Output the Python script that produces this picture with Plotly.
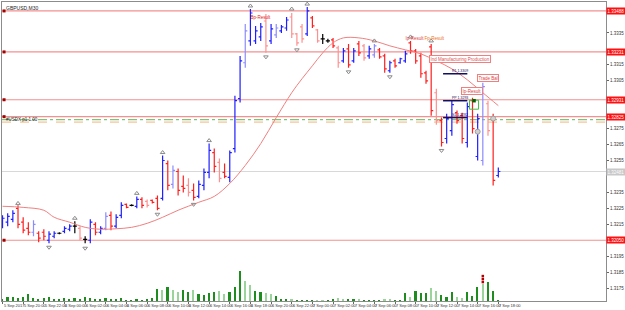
import plotly.graph_objects as go

SYMBOL = "GBPUSD,M30"

bar_open = [1.32138, 1.32163, 1.32181, 1.32250, 1.32163, 1.32125, 1.32100, 1.32094, 1.32100, 1.32050,
            1.32075, 1.32094, 1.32106, 1.32119, 1.32138, 1.32125, 1.32056, 1.32050, 1.32150, 1.32100,
            1.32125, 1.32206, 1.32138, 1.32206, 1.32275, 1.32269, 1.32263, 1.32306, 1.32294, 1.32300,
            1.32313, 1.32313, 1.32531, 1.32400, 1.32481, 1.32388, 1.32394, 1.32363, 1.32325, 1.32394,
            1.32475, 1.32600, 1.32538, 1.32475, 1.32444, 1.32625, 1.32938, 1.33163, 1.33300, 1.33300,
            1.33325, 1.33425, 1.33300, 1.33338, 1.33363, 1.33381, 1.33450, 1.33344, 1.33388, 1.33344,
            1.33444, 1.33369, 1.33313, 1.33300, 1.33306, 1.33256, 1.33175, 1.33250, 1.33175, 1.33281,
            1.33269, 1.33206, 1.33213, 1.33244, 1.33206, 1.33113, 1.33175, 1.33163, 1.33175, 1.33288,
            1.33238, 1.33206, 1.33100, 1.33263, 1.32975, 1.32800, 1.32688, 1.32738, 1.32850, 1.32831,
            1.32663, 1.32925, 1.32575, 1.32550, 1.32906, 1.32819, 1.32456]
bar_high = [1.32206, 1.32219, 1.32238, 1.32269, 1.32194, 1.32163, 1.32175, 1.32106, 1.32119, 1.32106,
            1.32106, 1.32100, 1.32138, 1.32150, 1.32169, 1.32138, 1.32075, 1.32181, 1.32163, 1.32138,
            1.32225, 1.32231, 1.32213, 1.32288, 1.32281, 1.32275, 1.32325, 1.32319, 1.32306, 1.32306,
            1.32331, 1.32581, 1.32550, 1.32519, 1.32500, 1.32456, 1.32438, 1.32406, 1.32425, 1.32500,
            1.32656, 1.32625, 1.32563, 1.32531, 1.32613, 1.32956, 1.33206, 1.33406, 1.33500, 1.33394,
            1.33413, 1.33469, 1.33406, 1.33406, 1.33400, 1.33450, 1.33475, 1.33350, 1.33406, 1.33513,
            1.33456, 1.33375, 1.33344, 1.33313, 1.33319, 1.33269, 1.33256, 1.33281, 1.33256, 1.33300,
            1.33281, 1.33269, 1.33281, 1.33256, 1.33219, 1.33175, 1.33188, 1.33194, 1.33238, 1.33300,
            1.33250, 1.33225, 1.33113, 1.33281, 1.33000, 1.32819, 1.32844, 1.32925, 1.32863, 1.32850,
            1.32913, 1.32944, 1.32844, 1.33038, 1.32925, 1.32844, 1.32506]
bar_low = [1.32125, 1.32138, 1.32163, 1.32125, 1.32094, 1.32081, 1.32075, 1.32038, 1.32050, 1.32031,
           1.32063, 1.32088, 1.32094, 1.32106, 1.32094, 1.32050, 1.32031, 1.32031, 1.32081, 1.32088,
           1.32113, 1.32113, 1.32125, 1.32188, 1.32250, 1.32263, 1.32250, 1.32250, 1.32256, 1.32281,
           1.32238, 1.32300, 1.32363, 1.32375, 1.32331, 1.32350, 1.32325, 1.32300, 1.32313, 1.32363,
           1.32438, 1.32475, 1.32413, 1.32438, 1.32413, 1.32600, 1.32913, 1.33131, 1.33269, 1.33281,
           1.33300, 1.33225, 1.33281, 1.33319, 1.33350, 1.33363, 1.33319, 1.33269, 1.33288, 1.33331,
           1.33381, 1.33288, 1.33281, 1.33288, 1.33256, 1.33131, 1.33163, 1.33131, 1.33163, 1.33206,
           1.33175, 1.33188, 1.33194, 1.33188, 1.33100, 1.33100, 1.33131, 1.33156, 1.33163, 1.33219,
           1.33156, 1.33069, 1.33031, 1.32831, 1.32775, 1.32638, 1.32656, 1.32706, 1.32781, 1.32656,
           1.32631, 1.32719, 1.32550, 1.32519, 1.32706, 1.32394, 1.32444]
bar_close = [1.32188, 1.32200, 1.32219, 1.32150, 1.32113, 1.32100, 1.32150, 1.32063, 1.32075, 1.32088,
             1.32094, 1.32094, 1.32125, 1.32138, 1.32138, 1.32063, 1.32056, 1.32163, 1.32100, 1.32125,
             1.32200, 1.32138, 1.32194, 1.32269, 1.32256, 1.32269, 1.32306, 1.32269, 1.32269, 1.32288,
             1.32250, 1.32550, 1.32394, 1.32488, 1.32363, 1.32375, 1.32350, 1.32319, 1.32400, 1.32475,
             1.32613, 1.32513, 1.32438, 1.32450, 1.32600, 1.32925, 1.33175, 1.33363, 1.33475, 1.33363,
             1.33388, 1.33269, 1.33375, 1.33381, 1.33388, 1.33431, 1.33344, 1.33288, 1.33313, 1.33488,
             1.33394, 1.33300, 1.33313, 1.33300, 1.33269, 1.33163, 1.33238, 1.33150, 1.33238, 1.33225,
             1.33194, 1.33250, 1.33269, 1.33200, 1.33125, 1.33163, 1.33144, 1.33188, 1.33219, 1.33238,
             1.33175, 1.33094, 1.33050, 1.32863, 1.32800, 1.32663, 1.32813, 1.32900, 1.32800, 1.32688,
             1.32888, 1.32750, 1.32813, 1.33013, 1.32738, 1.32425, 1.32481]
bar_kind = ["b", "b", "b", "r", "r", "r", "lb", "r", "r", "b",
            "b", "k", "b", "b", "k", "lr", "k", "b", "r", "b",
            "lb", "r", "b", "b", "r", "k", "b", "r", "lr", "r",
            "r", "b", "r", "lb", "r", "r", "lr", "r", "b", "b",
            "b", "r", "lr", "r", "b", "b", "b", "lb", "b", "b",
            "b", "lr", "b", "lb", "b", "b", "lr", "lr", "lr", "b",
            "r", "lr", "k", "k", "r", "lr", "b", "r", "b", "r",
            "lr", "b", "lb", "r", "r", "b", "r", "b", "b", "r",
            "r", "r", "r", "r", "lr", "r", "b", "b", "r", "r",
            "b", "r", "b", "lb", "lr", "r", "b"]

volume = [200, 400, 400, 300, 400, 700, 300, 200, 300, 400,
          200, 200, 300, 200, 300, 200, 400, 300, 200, 200,
          300, 200, 200, 300, 100, 100, 200, 100, 200, 300,
          1200, 1100, 1400, 1100, 900, 1100, 900, 1100, 700, 600,
          800, 900, 1000, 700, 900, 1400, 3000, 2000, 1600, 1000,
          900, 800, 700, 500, 200, 200, 200, 100, 100, 100,
          50, 100, 100, 100, 200, 300, 200, 200, 200, 200,
          100, 100, 100, 100, 200, 200, 100, 100, 800, 400,
          1000, 800, 800, 1300, 1000, 600, 400, 900, 400, 300,
          900, 500, 1400, 1700, 1900, 1000, 50]
volume_shade = ["d", "d", "d", "d", "d", "d", "d", "d", "d", "d",
                "d", "d", "d", "d", "d", "d", "d", "d", "d", "d",
                "d", "d", "d", "d", "d", "d", "d", "d", "d", "d",
                "d", "l", "d", "l", "l", "d", "d", "l", "d", "d",
                "d", "d", "l", "l", "d", "d", "d", "l", "l", "d",
                "d", "l", "l", "d", "d", "d", "l", "d", "d", "d",
                "d", "l", "l", "d", "d", "l", "l", "d", "d", "l",
                "d", "d", "d", "d", "l", "l", "d", "d", "d", "l",
                "d", "d", "d", "l", "l", "d", "d", "d", "l", "l",
                "d", "d", "d", "l", "d", "d", "d"]

ma_idx = [0, 4, 8, 10, 13, 16, 19, 22, 25, 28, 31, 34, 38, 41, 44, 47, 50, 53, 56, 58,
          60, 62, 64, 66, 69, 72, 75, 78, 81, 84, 87, 90, 93, 96]
ma_val = [1.32263, 1.32256, 1.32238, 1.32194, 1.32163, 1.32131, 1.32119, 1.32122, 1.32131, 1.32156,
          1.32194, 1.32238, 1.32288, 1.32325, 1.32406, 1.32519, 1.32656, 1.32819, 1.32975, 1.33063,
          1.33144, 1.33225, 1.33288, 1.33319, 1.33319, 1.33300, 1.33269, 1.33244, 1.33219, 1.33175,
          1.33125, 1.33056, 1.32975, 1.32894]

frac_up_idx = [3, 14, 26, 31, 40, 48, 56, 59, 72, 79, 83, 93]
frac_up_price = [1.32281, 1.32188, 1.32344, 1.32600, 1.32675, 1.33519, 1.33500, 1.33531,
                 1.33300, 1.33325, 1.33300, 1.33056]
frac_dn_idx = [9, 16, 30, 37, 51, 57, 67, 75, 85]
frac_dn_price = [1.32006, 1.32000, 1.32213, 1.32275, 1.33200, 1.33244, 1.33106, 1.33075, 1.32613]

time_idx = [0, 4, 8, 12, 16, 20, 24, 28, 32, 36, 40, 44, 48, 52, 56, 60, 64, 68, 72, 76, 80, 84, 88, 92, 96]
time_text = ["5 Sep 2017", "5 Sep 20:00", "5 Sep 22:00", "6 Sep 00:00", "6 Sep 02:00", "6 Sep 04:00",
             "6 Sep 06:00", "6 Sep 08:00", "6 Sep 10:00", "6 Sep 12:00", "6 Sep 14:00", "6 Sep 16:00",
             "6 Sep 18:00", "6 Sep 20:00", "6 Sep 22:00", "7 Sep 00:00", "7 Sep 02:00", "7 Sep 04:00",
             "7 Sep 06:00", "7 Sep 08:00", "7 Sep 10:00", "7 Sep 12:00", "7 Sep 14:00", "7 Sep 16:00",
             "7 Sep 18:00"]

# price-axis ticks (those hidden under the level tags are left out)
price_ticks = [1.3335, 1.3315, 1.3305, 1.3275, 1.3265, 1.3255,
               1.3235, 1.3225, 1.3215, 1.3195, 1.3185, 1.3175]

level_price = [1.33488, 1.33231, 1.32931, 1.32825, 1.32050]
level_text = ["1.33488", "1.33231", "1.32931", "1.32825", "1.32050"]
green_level = 1.32806
orange_level = 1.32791
current_price = 1.32481

pivot_start = 85.3
pivot_end = 90.0
pivot_price = [1.33094, 1.32925, 1.32819]
pivot_text = ["R1 1.3309", "PP 1.3293", "S1 1.3282"]

event_text = ["Bp-Result", "Ip-Result", "Fp-Result", "Ind Manufacturing Production", "Trade Bal", "Ip-Result"]
event_idx = [50.0, 79.9, 83.6, 88.5, 94.0, 90.9]
event_price = [1.33450, 1.33319, 1.33319, 1.33184, 1.33069, 1.32988]
event_box = [False, False, False, True, True, True]
event_color = ["#e02020", "#e04040", "#f07020", "#e05050", "#e04040", "#e04040"]

sar_idx = [92, 95]
sar_price = [1.32731, 1.32813]
signal_idx = [91.3]
signal_price = [1.32900]
spike_idx = [93, 93, 93]
spike_vol = [1900, 2200, 2500]

BAR_COLORS = {"b": "#1f1fff", "lb": "#8c8cff", "r": "#ff1f1f", "lr": "#ff9090", "k": "#000000"}
VOL_COLORS = {"d": "#1e8c1e", "l": "#9ad49a"}

n = len(bar_open)
idx = list(range(n))

fig = go.Figure()

# volume (overlay axis)
fig.add_trace(go.Bar(x=idx, y=volume, yaxis="y2", width=0.32,
                     marker=dict(color=[VOL_COLORS[s] for s in volume_shade], line=dict(width=0)),
                     hoverinfo="skip"))
fig.add_trace(go.Scatter(x=spike_idx, y=spike_vol, yaxis="y2", mode="markers",
                         marker=dict(symbol="square", size=2.5, color="#b00000"), hoverinfo="skip"))

# moving average
fig.add_trace(go.Scatter(x=ma_idx, y=ma_val, mode="lines",
                         line=dict(color="#f08080", width=1, shape="spline", smoothing=1.0),
                         hoverinfo="skip"))

# OHLC bars grouped by colour
for kind, col in BAR_COLORS.items():
    sel = [i for i in idx if bar_kind[i] == kind]
    if not sel:
        continue
    fig.add_trace(go.Ohlc(
        x=sel,
        open=[bar_open[i] for i in sel], high=[bar_high[i] for i in sel],
        low=[bar_low[i] for i in sel], close=[bar_close[i] for i in sel],
        increasing=dict(line=dict(color=col, width=1.2)),
        decreasing=dict(line=dict(color=col, width=1.2)),
        tickwidth=0.4, hoverinfo="skip"))

# fractals
fig.add_trace(go.Scatter(x=frac_up_idx, y=frac_up_price, mode="markers",
                         marker=dict(symbol="triangle-up-open", size=4, color="#8a8a8a",
                                     line=dict(width=1)), hoverinfo="skip"))
fig.add_trace(go.Scatter(x=frac_dn_idx, y=frac_dn_price, mode="markers",
                         marker=dict(symbol="triangle-down-open", size=4, color="#8a8a8a",
                                     line=dict(width=1)), hoverinfo="skip"))
# SAR-like grey circles
fig.add_trace(go.Scatter(x=sar_idx, y=sar_price, mode="markers",
                         marker=dict(symbol="circle", size=5, color="#d0d0d0",
                                     line=dict(color="#a0a0a0", width=1)), hoverinfo="skip"))
# signal marker
fig.add_trace(go.Scatter(x=signal_idx, y=signal_price, mode="markers",
                         marker=dict(symbol="square-open", size=9, color="#40c040",
                                     line=dict(width=1)), hoverinfo="skip"))
fig.add_trace(go.Scatter(x=signal_idx, y=[pivot_price[1]], mode="markers",
                         marker=dict(symbol="square", size=3.5, color="#006000"), hoverinfo="skip"))

# left anchors for levels
fig.add_trace(go.Scatter(x=[0.3] * len(level_price), y=level_price, mode="markers",
                         marker=dict(symbol="square", size=3, color="#a00000"), hoverinfo="skip"))

shapes = []
for p in level_price:
    shapes.append(dict(type="line", xref="paper", x0=0, x1=1, yref="y", y0=p, y1=p,
                       line=dict(color="#f49090", width=1.2), layer="below"))
shapes.append(dict(type="line", xref="paper", x0=0, x1=1, yref="y", y0=green_level, y1=green_level,
                   line=dict(color="#5cb85c", width=1, dash="dashdot"), layer="below"))
shapes.append(dict(type="line", xref="paper", x0=0, x1=1, yref="y", y0=orange_level, y1=orange_level,
                   line=dict(color="#f7b27a", width=1, dash="dash"), layer="below"))
shapes.append(dict(type="line", xref="paper", x0=0, x1=1, yref="y", y0=current_price, y1=current_price,
                   line=dict(color="#d8d8d8", width=1), layer="below"))
for p in pivot_price:
    shapes.append(dict(type="line", xref="x", x0=pivot_start, x1=pivot_end, yref="y", y0=p, y1=p,
                       line=dict(color="#101060", width=1.5)))

annotations = []
annotations.append(dict(text=SYMBOL, xref="paper", yref="paper", x=0.004, y=0.995,
                        xanchor="left", yanchor="top", showarrow=False,
                        font=dict(size=5, color="#222222")))
annotations.append(dict(text="#USDX p1 1.00", xref="paper", yref="y", x=0.004, y=green_level,
                        xanchor="left", yanchor="middle", showarrow=False,
                        font=dict(size=4.5, color="#222222")))
for t, i in zip(time_text, time_idx):
    annotations.append(dict(text=t, xref="x", yref="paper", x=i, y=0, xanchor="left",
                            yanchor="top", showarrow=False, borderpad=0, yshift=-0.5,
                            font=dict(size=4, color="#333333")))
for t, p in zip(level_text, level_price):
    annotations.append(dict(text=t, xref="paper", yref="y", x=1, y=p, xanchor="left",
                            yanchor="middle", showarrow=False, bgcolor="#ff1010", borderpad=0.5,
                            font=dict(size=4.5, color="#ffffff")))
annotations.append(dict(text="%.5f" % current_price, xref="paper", yref="y", x=1, y=current_price,
                        xanchor="left", yanchor="middle", showarrow=False, bgcolor="#c8c8c8",
                        borderpad=0.5, font=dict(size=4.5, color="#ffffff")))
for t, p in zip(pivot_text, pivot_price):
    annotations.append(dict(text=t, xref="x", yref="y", x=pivot_start + 1.5, y=p, xanchor="left",
                            yanchor="bottom", showarrow=False, borderpad=0,
                            font=dict(size=3.5, color="#101060")))
for t, i, p, box, col in zip(event_text, event_idx, event_price, event_box, event_color):
    a = dict(text=t, xref="x", yref="y", x=i, y=p, xanchor="center", yanchor="middle",
             showarrow=False, borderpad=0.5, font=dict(size=4.5, color=col))
    if box:
        a.update(bordercolor="#f08080", borderwidth=1, bgcolor="#ffffff")
    annotations.append(a)

fig.update_layout(
    width=625, height=310,
    margin=dict(l=1, r=16, t=1, b=9),
    paper_bgcolor="#ffffff", plot_bgcolor="#ffffff",
    showlegend=False,
    font=dict(family="Liberation Sans, DejaVu Sans", size=5),
    xaxis=dict(range=[-0.1, 116.85], showgrid=False, zeroline=False,
               showline=True, linecolor="#8c8c8c", linewidth=1, mirror=True,
               tickvals=time_idx, ticks="outside", ticklen=2, tickcolor="#666666",
               showticklabels=False, rangeslider=dict(visible=False), fixedrange=True),
    yaxis=dict(range=[1.31669, 1.33544], side="right", showgrid=False, zeroline=False,
               showline=True, linecolor="#8c8c8c", linewidth=1, mirror=True,
               tickvals=price_ticks, tickformat=".4f", ticks="outside", ticklen=2,
               tickcolor="#666666", tickfont=dict(size=4.5, color="#333333"), fixedrange=True),
    yaxis2=dict(range=[0, 30000], overlaying="y", visible=False, fixedrange=True),
    shapes=shapes, annotations=annotations,
    bargap=0,
)

fig.write_html("out.html")
